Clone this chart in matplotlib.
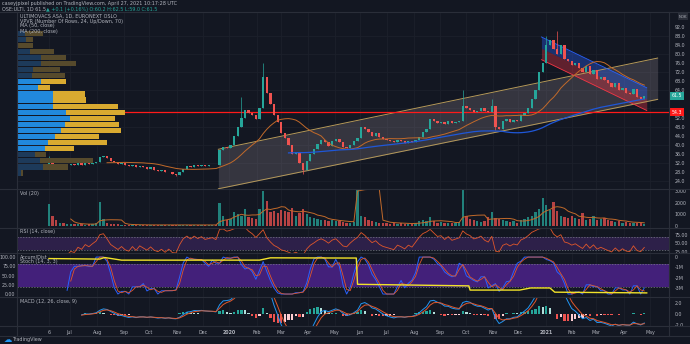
import numpy as np
import pandas as pd
import matplotlib.pyplot as plt

BG = "#131722"
GRID = "#1c202b"
SEP = "#2a2e39"
TXT = "#b2b5be"
UP = "#26a69a"
DN = "#ef5350"

# 3-day bars from the listing day (closes, NOK)
closes = [
    33.0, 31.5, 30.8, 31.2, 30.5, 31.0,
    31.5, 31.0, 31.8, 31.2, 32.0, 31.5, 32.0, 32.5,
    34.5, 35.0, 34.2, 33.0, 32.3, 31.5, 32.0, 31.0,
    30.5, 31.2, 30.0, 30.8, 30.2, 29.5, 30.0,
    29.0, 28.5, 28.8, 27.8, 28.2, 27.0, 26.8, 28.0,
    29.5, 30.5, 30.0, 31.0, 30.6, 31.2, 30.8,
    31.0, 31.2, 31.0, 37.8, 39.0, 38.5, 40.0,
    44.0, 48.0, 52.0, 55.5, 54.0, 53.0, 51.5,
    56.0, 70.0, 63.0, 58.0, 53.0, 50.0, 45.0,
    43.0, 40.0, 36.0, 37.0, 32.0, 29.0, 33.0, 36.0,
    38.0, 40.5, 42.0, 41.0, 39.5, 41.5, 42.5,
    41.0, 39.0, 38.5, 40.0, 41.5, 43.0,
    48.0, 47.0, 45.5, 44.0, 45.0, 43.5, 42.5,
    42.0, 41.5, 41.0, 42.0, 41.5, 40.8, 41.5, 41.0,
    42.0, 43.5, 45.5, 47.0, 51.5, 50.5, 49.5, 50.0,
    49.0, 50.5, 49.5, 50.0, 50.5, 57.0, 56.0,
    55.5, 54.5, 55.0, 56.0, 55.0, 54.5, 57.0, 48.0,
    47.0, 50.5, 51.5, 50.0, 51.0, 50.5, 53.0,
    54.0, 56.0, 60.0, 64.0, 72.0, 76.0, 84.0,
    86.0, 82.0, 80.0, 84.0, 78.0, 77.0, 75.0,
    76.0, 74.0, 72.0, 74.5, 71.0, 73.0, 69.0,
    70.0, 68.5, 67.0, 65.5, 67.0, 64.0, 65.0,
    63.0, 62.5, 64.5, 61.0, 60.0, 61.5,
]
wick_high = {0: 35.0, 53: 61.0, 59: 76.0, 114: 64.0, 122: 60.0, 137: 88.0, 140: 90.0}
wick_low = {35: 26.2, 70: 27.0, 123: 46.5}

# volume per bar, thousands of shares
volumes = [
    1900, 900, 500, 300, 250, 200,
    200, 150, 180, 150, 120, 150, 200, 250,
    2100, 600, 300, 200, 150, 150, 120, 100,
    100, 120, 100, 90, 100, 80, 90,
    100, 90, 80, 100, 90, 120, 100, 90,
    100, 90, 80, 100, 90, 80, 100,
    90, 100, 80, 2000, 900, 500, 600,
    1200, 1000, 900, 1500, 800, 700, 600,
    1500, 3000, 2200, 1200, 1300, 1100, 1400,
    1300, 1200, 1600, 900, 1100, 1500, 1000, 800,
    700, 600, 500, 550, 400, 500, 450,
    400, 350, 300, 300, 350, 19000,
    900, 800, 500, 400, 350, 300, 300,
    250, 200, 300, 200, 250, 200, 150, 200,
    300, 400, 500, 450, 800, 400, 300, 350,
    250, 300, 250, 300, 350, 3500, 900,
    600, 500, 400, 350, 400, 800, 1200, 700,
    600, 500, 400, 350, 400, 300, 500,
    600, 800, 900, 1200, 1500, 2400, 1800,
    1400, 2100, 1300, 900, 800, 700, 900,
    700, 600, 1100, 500, 600, 900, 500,
    600, 700, 500, 400, 350, 400, 300,
    350, 300, 250, 300, 250, 200,
]

# accumulation/distribution (millions), vertices by business day
ad_day = [0, 42, 46, 60, 174, 183, 245, 254, 255, 347, 348, 389, 398, 414, 418, 494]
ad_val = [-0.15, -0.2, -0.05, -0.3, -0.3, -0.08, -0.1, -0.1, -2.6, -2.75,
          -3.15, -3.15, -2.95, -2.95, -3.35, -3.42]

# visible-range volume profile, 24 rows from bottom
vp_low, vp_high = 26.4, 90.7
vp_up = [4.3, 26, 22.7, 17.7, 27.7, 31, 38, 43.7, 47.7, 52.7, 48.7, 36,
         36, 36, 21, 24.3, 15, 16, 24.3, 24.3, 12.7, 0, 9, 7.7]
vp_down = [1.7, 25, 53, 11.7, 29, 59, 43.7, 60.7, 54, 45, 59, 65,
           32.7, 31.7, 11.7, 24.3, 33, 26.7, 35, 25, 24.3, 16, 7, 18.3]
vp_value_area = (4, 15)

# drawings: rising channel and the 2021 regression trend
chan_day = [140, 503]
chan_up = [38.0, 78.2]
chan_lo = [20.6, 60.0]
reg_day = [407, 494]
reg_mid = [82.5, 60.1]
reg_dev = 5.0

poc_price = 54.3
last_price = 61.5

STEP = 3
n = len(closes)
x = np.arange(n) * STEP
c = pd.Series(closes, dtype=float)
o = c.shift(1).fillna(31.0)
hi = np.maximum(o, c)
lo = np.minimum(o, c)
for k, v in wick_high.items():
    hi[k] = v
for k, v in wick_low.items():
    lo[k] = v
up = (c >= o).values

# indicators (periods scaled to 3-day bars)
ma50 = c.rolling(17).mean()
ma200 = c.rolling(67).mean()
vol = pd.Series(volumes, dtype=float)
vol_ma = vol.rolling(7).mean()

d = c.diff()
gain = d.clip(lower=0).ewm(alpha=1 / 5, adjust=False).mean()
loss = (-d.clip(upper=0)).ewm(alpha=1 / 5, adjust=False).mean()
rsi = 100 - 100 / (1 + gain / loss)
rsi[:5] = np.nan

ll = lo.rolling(5).min()
hh = hi.rolling(5).max()
stoch_k = (100 * (c - ll) / (hh - ll)).rolling(2).mean()
stoch_d = stoch_k.rolling(2).mean()

macd = c.ewm(span=4, adjust=False).mean() - c.ewm(span=9, adjust=False).mean()
signal = macd.ewm(span=3, adjust=False).mean()
hist = macd - signal
macd[:9] = np.nan
signal[:9] = np.nan
hist[:9] = np.nan

# calendar for time axis
cal = pd.bdate_range("2019-06-06", "2021-05-31")
ticks, labels = [0], ["6"]
for i in range(1, len(cal)):
    if cal[i].month != cal[i - 1].month:
        ticks.append(i)
        labels.append(str(cal[i].year) if cal[i].month == 1 else cal[i].strftime("%b"))

W, H = 690, 344
fig = plt.figure(figsize=(W / 100, H / 100), dpi=100, facecolor=BG)


def panel(top, bottom):
    ax = fig.add_axes([17 / W, 1 - bottom / H, 652 / W, (bottom - top) / H])
    ax.set_facecolor(BG)
    for s in ax.spines.values():
        s.set_visible(False)
    ax.set_xlim(-26.4, 512.4)
    ax.set_xticks(ticks)
    ax.tick_params(axis="x", length=0, labelbottom=False)
    ax.tick_params(axis="y", length=0, labelsize=3.4, colors=TXT, pad=4)
    ax.yaxis.tick_right()
    for t in ticks:
        ax.axvline(t, color=GRID, lw=0.6, zorder=0)
    return ax


# ---- price panel
ax = panel(12, 189)
ax.set_ylim(20.5, 98.5)
pticks = [p for p in range(24, 96, 4) if p not in (56, 60)]
ax.set_yticks(pticks)
ax.set_yticklabels([f"{p:.1f}" for p in pticks])
for p in range(24, 96, 8):
    ax.axhline(p, color=GRID, lw=0.6, zorder=0)

vp = ax.twiny()
vp.set_xlim(0, 652)
vp.axis("off")
row_h = (vp_high - vp_low) / len(vp_up)
for i, (u, dn) in enumerate(zip(vp_up, vp_down)):
    y0 = vp_low + i * row_h
    inside = vp_value_area[0] <= i <= vp_value_area[1]
    cb = "#2189dc" if inside else "#1d3a5a"
    cy = "#d9aa30" if inside else "#564a2c"
    vp.barh(y0, u, height=row_h * 0.86, left=0, align="edge", color=cb, lw=0)
    vp.barh(y0, dn, height=row_h * 0.86, left=u, align="edge", color=cy, lw=0)

ax.fill_between(chan_day, chan_lo, chan_up, color="#9c8f99", alpha=0.25, lw=0, zorder=1)
ax.plot(chan_day, chan_up, color="#b69a5a", lw=0.7, zorder=2)
ax.plot(chan_day, chan_lo, color="#b69a5a", lw=0.7, zorder=2)

rm = np.array(reg_mid)
ax.fill_between(reg_day, rm, rm + reg_dev, color="#2962ff", alpha=0.35, lw=0, zorder=1)
ax.fill_between(reg_day, rm - reg_dev, rm, color="#f23645", alpha=0.35, lw=0, zorder=1)
ax.plot(reg_day, rm + reg_dev, color="#2962ff", lw=0.6, zorder=2)
ax.plot(reg_day, rm - reg_dev, color="#f23645", lw=0.6, zorder=2)

ax.axhline(poc_price, color="#ff1a1a", lw=0.9, zorder=3)

cols = np.where(up, UP, DN)
ax.vlines(x, lo, hi, colors=cols, lw=0.5, zorder=4)
ax.bar(x, np.maximum(np.abs(c - o), 0.25), bottom=np.minimum(o, c),
       width=1.9, color=cols, lw=0, zorder=5)
ax.plot(x, ma50, color="#c26a2a", lw=0.7, zorder=6)
ax.plot(x, ma200, color="#1f57d8", lw=0.9, zorder=6)

legend_main = ["ULTIMOVACS ASA, 1D, EURONEXT OSLO",
               "VPVR (Number Of Rows, 24, Up/Down, 70)",
               "MA (50, close)", "MA (200, close)"]
for i, s in enumerate(legend_main):
    fig.text(20 / W, 1 - (16 + 5 * i) / H, s, color=TXT, fontsize=3.5, va="center")

# ---- volume panel
axv = panel(189, 228)
axv.set_ylim(-170, 3200)
axv.set_yticks([0, 1000, 2000, 3000])
axv.set_yticklabels(["0", "1000", "2000", "3000"])
axv.bar(x, vol, width=1.9, color=cols, alpha=0.75, lw=0)
axv.plot(x, vol_ma, color="#c26a2a", lw=0.7)
fig.text(20 / W, 1 - 194 / H, "Vol (20)", color=TXT, fontsize=3.5, va="center")

# ---- RSI panel
axr = panel(228, 253)
axr.set_ylim(21, 96)
axr.set_yticks([25, 50, 75])
axr.set_yticklabels(["25.00", "50.00", "75.00"])
axr.axhspan(30, 70, color="#2d2049", lw=0)
for lvl in (30, 70):
    axr.axhline(lvl, color="#787b86", lw=0.5, ls=(0, (2, 2)))
axr.plot(x, rsi, color="#e0572b", lw=0.6)
fig.text(20 / W, 1 - 232 / H, "RSI (14, close)", color=TXT, fontsize=3.5, va="center")

# ---- stochastic + accumulation/distribution
axs = panel(253, 297)
axs.set_ylim(-8, 111)
axs.yaxis.tick_left()
axs.set_yticks([0, 25, 50, 75, 100])
axs.set_yticklabels(["0.00", "25.00", "50.00", "75.00", "100.00"])
axs.tick_params(axis="y", pad=1)
axs.axhspan(20, 80, color="#43207a", lw=0)
for lvl in (20, 80):
    axs.axhline(lvl, color="#787b86", lw=0.5, ls=(0, (2, 2)))
axs.plot(x, stoch_k, color="#2962ff", lw=0.7)
axs.plot(x, stoch_d, color="#e0572b", lw=0.6)
axa = axs.twinx()
axa.set_ylim(-3.81, 0.38)
axa.set_yticks([-3, -2, -1, 0])
axa.set_yticklabels(["-3M", "-2M", "-1M", "0"])
axa.tick_params(axis="y", length=0, labelsize=3.4, colors=TXT, pad=4)
for s in axa.spines.values():
    s.set_visible(False)
axa.plot(ad_day, ad_val, color="#f2e32a", lw=1.0)
fig.text(20 / W, 1 - 257 / H, "Accum/Dist", color=TXT, fontsize=3.5, va="center")
fig.text(20 / W, 1 - 262 / H, "Stoch (14, 3, 3)", color=TXT, fontsize=3.5, va="center")

# ---- MACD panel
axm = panel(297, 326)
axm.set_ylim(-2.18, 3.09)
axm.set_yticks([-2, 0, 2])
axm.set_yticklabels(["-2.0", "0.0", "2.0"])
prev = hist.shift(1)
hcol = np.where(hist >= 0, np.where(hist >= prev, "#26a69a", "#b2dfdb"),
                np.where(hist < prev, "#ef5350", "#ffcdd2"))
axm.bar(x, hist.fillna(0), width=1.9, color=hcol, lw=0)
axm.plot(x, macd, color="#2196f3", lw=0.7)
axm.plot(x, signal, color="#e0572b", lw=0.7)
axm.set_xticklabels(labels)
axm.tick_params(axis="x", labelbottom=True, labelsize=3.4, colors=TXT, pad=3)
for t in axm.get_xticklabels():
    if t.get_text() in ("2020", "2021"):
        t.set_fontweight("bold")
fig.text(20 / W, 1 - 302 / H, "MACD (12, 26, close, 9)", color=TXT, fontsize=3.5, va="center")

# ---- frame lines
for yy in (12, 189, 228, 253, 297, 326, 336):
    fig.add_artist(plt.Line2D([0, 1], [1 - yy / H] * 2, color=SEP, lw=0.8))
for xx in (17, 669):
    fig.add_artist(plt.Line2D([xx / W] * 2, [1 - 336 / H, 1 - 12 / H], color=SEP, lw=0.8))

# price labels on the scale
ytop = lambda p: (p - 20.5) / (98.5 - 20.5)
ax.text(1.004, ytop(last_price), f"{last_price:.1f}", transform=ax.transAxes, fontsize=3.4,
        color="white", va="center", ha="left",
        bbox=dict(boxstyle="square,pad=0.35", fc="#26a69a", ec="none"))
ax.text(1.004, ytop(poc_price), f"{poc_price:.1f}", transform=ax.transAxes, fontsize=3.4,
        color="white", va="center", ha="left",
        bbox=dict(boxstyle="square,pad=0.35", fc="#ff1a1a", ec="none"))
ax.text(1.015, ytop(96.5), "NOK", transform=ax.transAxes, fontsize=2.8, color=TXT,
        va="center", ha="left", bbox=dict(boxstyle="square,pad=0.3", fc="#2a2e39", ec="none"))

# header and footer
fig.text(2 / W, 1 - 4 / H, "caseyjpixel published on TradingView.com, April 27, 2021 10:17:28 UTC",
         color=TXT, fontsize=3.5, va="center")
fig.text(2 / W, 1 - 9 / H, "OSE:ULTI, 1D 61.5", color=TXT, fontsize=3.5, va="center")
fig.text(46 / W, 1 - 9 / H, "\u25b2 +0.1 (+0.16%) O:60.2 H:62.5 L:59.0 C:61.5",
         color=UP, fontsize=3.5, va="center")
fig.text(4 / W, 1 - 340 / H, "\u2601", color="#2196f3", fontsize=6, va="center")
fig.text(12 / W, 1 - 340 / H, "TradingView", color=TXT, fontsize=3.5, va="center")

fig.savefig("out.png", dpi=100, facecolor=BG)
